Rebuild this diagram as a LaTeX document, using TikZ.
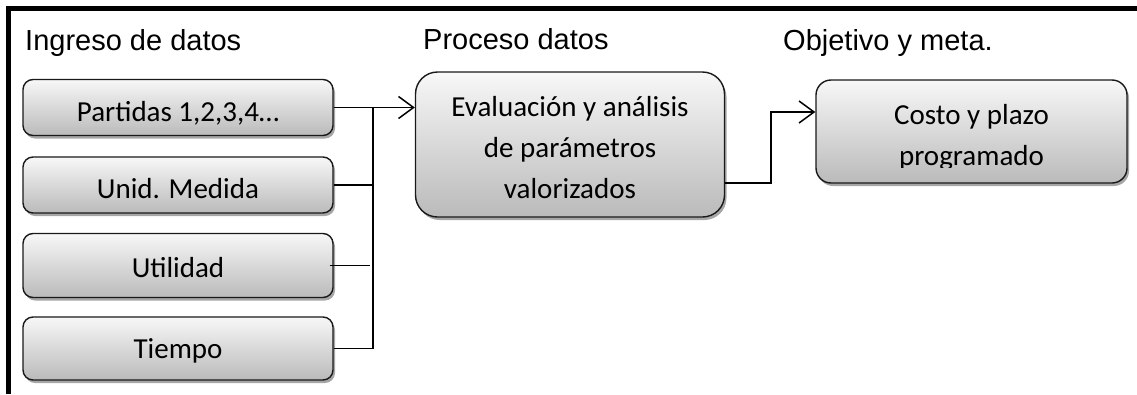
\documentclass[tikz,border=0pt]{standalone}
\usepackage{fontspec}
\setmainfont{Carlito}
\newfontfamily\arialf{Liberation Sans}
\usetikzlibrary{arrows.meta,shadows,calc}
\begin{document}
\begin{tikzpicture}[x=1pt,y=-1pt,
  box/.style={draw=black!90,line width=1.4pt,top color=black!3,bottom color=black!27,
    drop shadow={shadow xshift=2pt,shadow yshift=-3pt,opacity=0.35,fill=black},
    align=center,font=\fontsize{29}{41}\selectfont,inner sep=0pt},
  boxtext/.style={align=center,inner sep=0pt,font=\fontsize{29}{41}\selectfont},
  small/.style={box,rounded corners=10pt,minimum width=310pt,text depth=0pt},
  header/.style={anchor=base west,inner sep=0pt,font=\arialf\fontsize{29}{34}\selectfont},
  conn/.style={line width=1.5pt,draw=black},
  arr/.style={conn,-{Straight Barb[length=15pt,width=22pt,line width=1.5pt]}}]
\useasboundingbox (0,0) rectangle (1137,394);
\draw[line width=5pt] (8,394) -- (8,8.5) -- (1137,8.5);
% headers
\node[header] (h1) at (25,50) {Ingreso de datos};
\node[header] (h2) at (423,49) {Proceso datos};
\node[header] (h3) at (783,50) {Objetivo y meta.};
% input boxes
\node[small,minimum height=56pt,text height=28pt] (b1) at (178,107.5) {Partidas 1,2,3,4…};
\node[small,minimum height=56pt,text height=26pt] (b2) at (178,185) {Unid. Medida};
\node[small,minimum height=64pt,text height=23pt] (b3) at (178,265.5) {Utilidad};
\node[small,minimum height=63pt,text height=19pt] (b4) at (178,348.5) {Tiempo};
% process box
\node[box,rounded corners=22pt,minimum width=309pt,minimum height=145pt] (main) at (570,144.5) {};
\node[boxtext] (maintext) at (570,148) {Evaluación y análisis\\ de parámetros\\ valorizados};
% result box
\node[box,rounded corners=15pt,minimum width=311pt,minimum height=103pt] (costo) at (971.5,131.5) {};
\begin{scope}
\clip (816,60) rectangle (1127,167);
\node[boxtext] (ctext) at (971.5,137) {Costo y plazo\\ programado};
\end{scope}
% connectors
\coordinate (bus) at (373,0);
\draw[arr] (b1.east) -- (main.west |- b1.east);
\draw[conn] (b1.east -| bus) -- (b4.east -| bus);
\draw[conn] (b2.east) -- (b2.east -| bus);
\draw[conn] ([xshift=-4pt]b3.east) -- ([xshift=-3pt]b3.east -| bus);
\draw[conn] (b4.east) -- (b4.east -| bus);
\coordinate (o1) at (771,183);
\draw[arr] (main.east |- o1) -- (o1) |- ([yshift=19.5pt]costo.west);
\end{tikzpicture}
\end{document}
